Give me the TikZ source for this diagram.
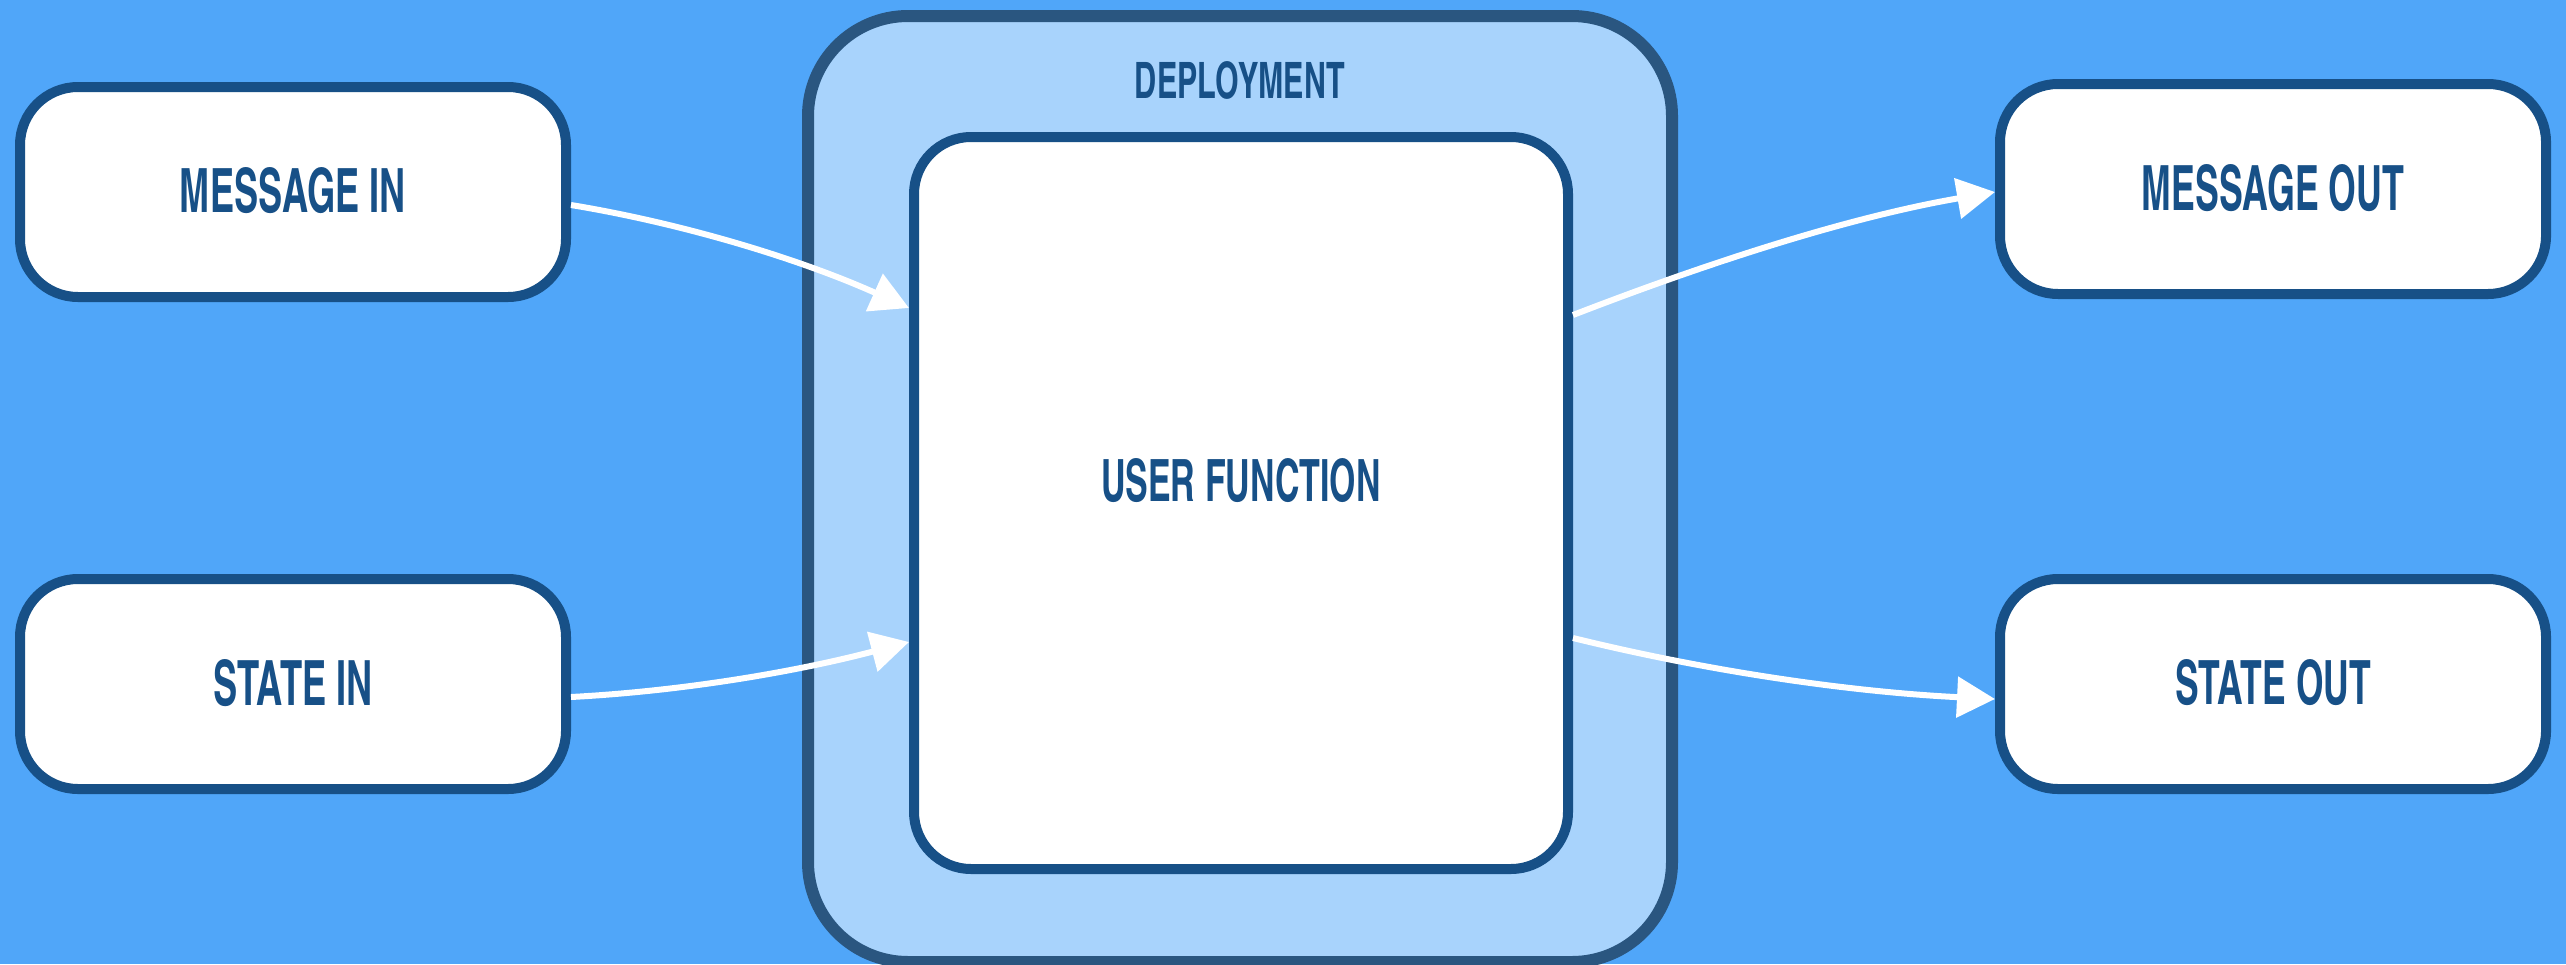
\documentclass[tikz,border=0pt]{standalone}
\usepackage{fontspec}
\newfontfamily\bebas{texgyreheroscn-bold.otf}
\usetikzlibrary{arrows.meta,calc}
\definecolor{bgblue}{HTML}{50A6F9}
\definecolor{depfill}{HTML}{A8D3FC}
\definecolor{depborder}{HTML}{2A5680}
\definecolor{nodeborder}{HTML}{175087}
\newcommand{\boxlabel}[4]{\raisebox{\dimexpr #1pt-#3pt/2\relax}[0pt][0pt]{\resizebox{#2pt}{#3pt}{\color{nodeborder}\bebas #4}}}
\tikzset{
  deploy/.style={draw=depborder, fill=depfill, line width=12pt, rounded corners=100pt,
    minimum width=864pt, minimum height=946pt, inner sep=0pt},
  fnbox/.style={draw=nodeborder, fill=white, line width=10pt, rounded corners=57pt,
    minimum width=654pt, minimum height=732pt, inner sep=0pt},
  iobox/.style={draw=nodeborder, fill=white, line width=10pt, rounded corners=58pt,
    minimum width=546pt, minimum height=210pt, inner sep=0pt},
  flow/.style={draw=white, line width=6pt, -{Triangle[length=38pt,width=40pt]}}
}
\begin{document}
\begin{tikzpicture}[x=1pt,y=-1pt]
\fill[bgblue] (0,0) rectangle (2566,964);
\useasboundingbox (0,0) rectangle (2566,964);
\node[deploy] (dep) at (1240,489) {\boxlabel{409}{210}{37}{DEPLOYMENT}};
\node[fnbox] (uf) at (1241,503) {\boxlabel{23}{280}{43}{USER FUNCTION}};
\node[iobox] (mi) at (293,192) {\boxlabel{2}{226}{45}{MESSAGE IN}};
\node[iobox] (si) at (293,684) {\boxlabel{2}{160}{46}{STATE IN}};
\node[iobox] (mo) at (2273,189) {\boxlabel{2}{263}{46}{MESSAGE OUT}};
\node[iobox] (so) at (2273,684) {\boxlabel{2}{196}{45}{STATE OUT}};
% arrow 1
\coordinate (a1s) at ($(mi.east)+(0,13)$);
\coordinate (a1e) at ($(uf.west)+(0,-195)$);
\draw[flow] (a1s) .. controls ($(a1s)+(115,19)$) and ($(a1e)+(-107,-48)$) .. (a1e);
% arrow 2
\coordinate (a2s) at ($(si.east)+(0,13)$);
\coordinate (a2e) at ($(uf.west)+(0,139)$);
\draw[flow] (a2s) .. controls ($(a2s)+(114,-6)$) and ($(a2e)+(-110,29)$) .. (a2e);
% arrow 3
\coordinate (a3s) at ($(uf.east)+(0,-188)$);
\coordinate (a3e) at ($(mo.west)+(0,3)$);
\draw[flow] (a3s) .. controls ($(a3s)+(137,-53)$) and ($(a3e)+(-145,25)$) .. (a3e);
% arrow 4
\coordinate (a4s) at ($(uf.east)+(0,135)$);
\coordinate (a4e) at ($(so.west)+(0,15)$);
\draw[flow] (a4s) .. controls ($(a4s)+(138,34)$) and ($(a4e)+(-142,-7)$) .. (a4e);
\end{tikzpicture}
\end{document}
